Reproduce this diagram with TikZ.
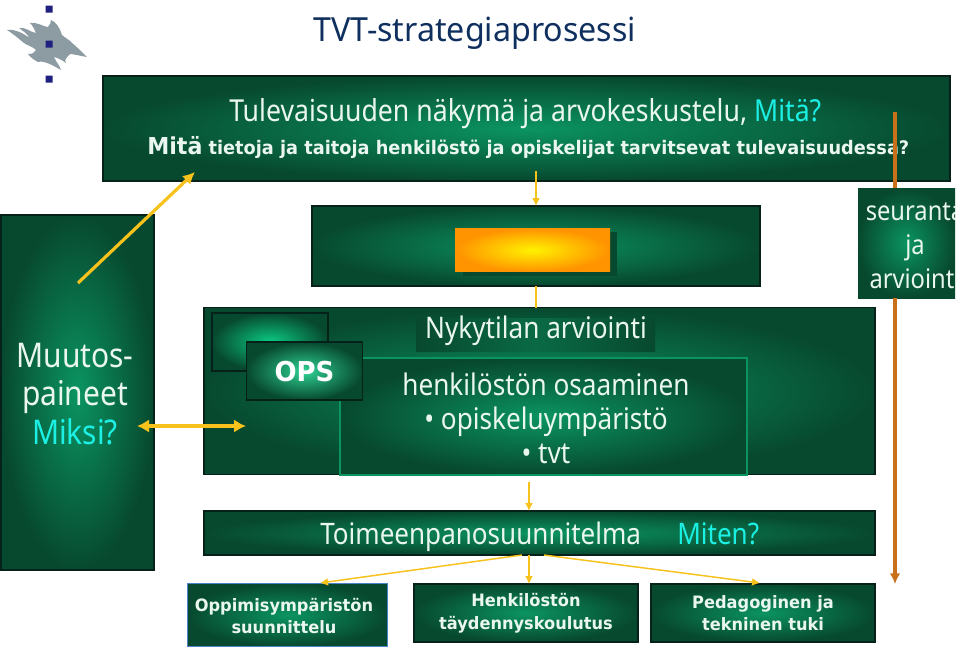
\documentclass[tikz,border=0pt]{standalone}
\usepackage{fontspec}
\setmainfont{Noto Sans}[FakeStretch=0.88]
\newfontfamily\titlef{Noto Sans}[FakeStretch=0.97]
\newfontfamily\boldv{DejaVu Sans}[FakeStretch=0.95]
\usetikzlibrary{arrows.meta}
\definecolor{gdark}{HTML}{07492F}
\definecolor{gmid}{HTML}{0A6A45}
\definecolor{glight}{HTML}{0B9462}
\definecolor{gbright}{HTML}{0BCB82}
\definecolor{yel}{HTML}{F7C21C}
\definecolor{cyn}{HTML}{1CF0E4}
\definecolor{org}{HTML}{C8701A}
\definecolor{navy}{HTML}{0F2F5F}
\definecolor{flame}{HTML}{8D9BA3}
\definecolor{sq}{HTML}{1F1F7F}
\definecolor{pale}{HTML}{EAF7F0}
\definecolor{edge}{HTML}{06201A}
\tikzset{
  x=0.75pt,y=-0.75pt,
  sz/.style 2 args={minimum width=#1*0.75pt,minimum height=#2*0.75pt,inner sep=0pt,outer sep=0pt},
  greenbox/.style={draw=edge,line width=1pt,inner color=glight,outer color=gdark},
  lab/.style={text=pale,inner sep=0pt,align=center,font=\fontsize{22.3}{25.5}\selectfont},
  blab/.style={text=pale,inner sep=0pt,align=center,font=\boldv\bfseries\fontsize{12.8}{17}\selectfont},
  yarrow/.style={yel,line width=1.1pt,-{Latex[length=6pt,width=6pt]}},
  oline/.style={org,line width=2.5pt},
}
\begin{document}
\begin{tikzpicture}
\useasboundingbox (0,0) rectangle (960,651);
% logo
\fill[flame] (7,30) .. controls (16,29) and (22,33) .. (30,38) .. controls (26,33) and (22,30) .. (19,28)
 .. controls (26,27) and (30,32) .. (36,33) .. controls (34,28) and (32,25) .. (30,23) .. controls (38,22) and (44,27) .. (48,27)
 .. controls (50,25) and (51,22) .. (51,20) .. controls (56,22) and (60,28) .. (62,35) .. controls (65,38) and (70,40) .. (72,43)
 .. controls (76,46) and (82,52) .. (87,57) .. controls (80,56) and (74,54) .. (70,54) .. controls (66,58) and (64,60) .. (66,63)
 .. controls (62,60) and (58,58) .. (54,57) .. controls (56,62) and (60,66) .. (61,70) .. controls (54,66) and (44,60) .. (38,62)
 .. controls (34,60) and (30,57) .. (28,54) .. controls (32,54) and (35,53) .. (36,50) .. controls (32,46) and (28,46) .. (24,43)
 .. controls (18,38) and (12,33) .. (7,30) -- cycle;
\fill[sq] (45.5,5.5) rectangle (52.5,12.5) (45.5,40.5) rectangle (52.5,47.5) (45.5,75.5) rectangle (52.5,82.5);
\node[anchor=base west,inner sep=0pt,text=navy,font=\titlef\fontsize{24.9}{28}\selectfont] (title) at (313,41) {TVT-strategiaprosessi};
% boxes
\node[greenbox,sz={847}{105}] (top) at (526.5,128.5) {};
\node[lab,anchor=base west,font=\fontsize{22.7}{26}\selectfont] (t1) at (229,121) {Tulevaisuuden näkymä ja arvokeskustelu, \textcolor{cyn}{Mitä?}};
\node[blab,anchor=base west,text=pale,font=\boldv\bfseries\fontsize{14}{17}\selectfont] (t2) at (147,154) {{\fontsize{17.5}{20}\selectfont Mitä} tietoja ja taitoja henkilöstö ja opiskelijat tarvitsevat tulevaisuudessa?};
\node[greenbox,sz={448}{80}] (mid) at (536,246) {};
\fill[gdark] (463,232) rectangle (617,276);
\node[sz={155}{43},inner color=yellow!90!orange,outer color=orange!85!yellow] (hsp) at (532.5,250) {};
% seuranta
\node[greenbox,draw=none,sz={97}{110}] (seur) at (906.5,243) {};
\begin{scope}
\clip (800,180) rectangle (955,300);
\node[lab,font=\fontsize{20.2}{25.5}\selectfont] (seurt) at (915,246) {seuranta\\ja\\arviointi};
\end{scope}
% muutos
\node[greenbox,sz={153}{355}] (muu) at (77.5,392.5) {};
\node[lab,font=\fontsize{25.5}{29}\selectfont] (muut) at (75,394) {Muutos-\\paineet\\\textcolor{cyn}{Miksi?}};
% nykytila
\node[greenbox,sz={671}{167}] (nyk) at (539.5,391) {};
\node[sz={407}{117},inner color=glight,outer color=gdark,draw=glight,line width=.8pt] (inner) at (543.5,416.5) {};
\node[greenbox,inner color=gbright,sz={116}{58}] (blank) at (270,342) {};
\node[greenbox,inner color=gbright!85!white,sz={116}{58}] (ops) at (304.5,371) {};
\node[text=white,font=\boldv\bfseries\fontsize{20.5}{24}\selectfont,inner sep=0pt] (opst) at (304.5,372) {OPS};
\node[sz={239}{33},left color=gdark,right color=gdark,middle color=gmid] (npad) at (535.5,334.5) {};
\node[lab] (nt) at (536,331) {Nykytilan arviointi};
\node[lab] (nl) at (546,418) {henkilöstön osaaminen\\\textbullet~opiskeluympäristö\\\textbullet~tvt};
% toimeenpano
\node[greenbox,sz={671}{44}] (toim) at (539.5,533) {};
\node[lab,anchor=base west,font=\fontsize{22.2}{25}\selectfont] (tt) at (320,544) {Toimeenpanosuunnitelma};
\node[lab,anchor=base west,font=\fontsize{22.2}{25}\selectfont,text=cyn] (mt) at (677,544) {Miten?};
% bottom
\node[greenbox,draw=teal!60!blue!70!white,line width=1.2pt,sz={200}{63}] (b1) at (287.5,615) {};
\node[blab] (b1t) at (284,616) {Oppimisympäristön\\suunnittelu};
\node[greenbox,sz={224}{58}] (b2) at (526,613) {};
\node[blab] (b2t) at (526,613) {Henkilöstön\\täydennyskoulutus};
\node[greenbox,sz={224}{58}] (b3) at (763,613) {};
\node[blab] (b3t) at (763,613) {Pedagoginen ja\\tekninen tuki};
% connectors
\coordinate (c0) at (78,283);
\coordinate (c1) at (195,172);
\draw[yel,line width=2.4pt,-{Latex[length=9pt,width=9pt]}] (c0) -- (c1);
\coordinate (d0) at (137,426);
\coordinate (d1) at (246,426);
\draw[yel,line width=3.2pt,{Latex[length=9pt,width=10pt]}-{Latex[length=9pt,width=10pt]}] (d0) -- (d1);
\coordinate (a0) at (536,171);
\draw[yarrow] (a0) -- (mid.north -| a0);
\draw[yel,line width=1.1pt] (mid.south -| a0) -- (nyk.north -| a0);
\coordinate (a1) at (529,482);
\draw[yarrow] (a1) -- (toim.north -| a1);
\draw[yarrow] (toim.south -| a1) -- (b2.north -| a1);
\coordinate (s1) at (522,555); \coordinate (s2) at (544,555);
\coordinate (s3) at (320,583); \coordinate (s4) at (760,583);
\draw[yarrow] (s1) -- (s3);
\draw[yarrow] (s2) -- (s4);
\coordinate (o0) at (895,112); \coordinate (o1) at (895,584);
\draw[oline] (o0) -- (seur.north -| o0);
\draw[oline,-{Latex[length=8pt,width=8pt]}] (seur.south -| o0) -- (o1);
\end{tikzpicture}
\end{document}
